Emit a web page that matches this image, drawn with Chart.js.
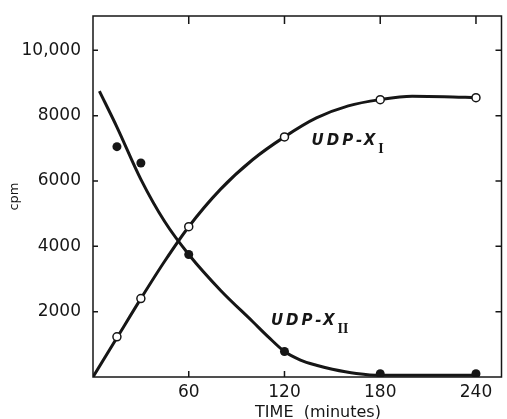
<!DOCTYPE html>
<html>
<head>
<meta charset="utf-8">
<script src="https://cdn.jsdelivr.net/npm/chart.js@4.4.1/dist/chart.umd.min.js"></script>
<style>
  body { margin: 0; background: #fff; }
  #wrap { width: 507px; height: 419px; }
</style>
</head>
<body>
<div id="wrap"><canvas id="chart" width="507" height="419"></canvas></div>
<script>
// tick labels
const timeTicks = [60, 120, 180, 240];
const cpmTicks = [2000, 4000, 6000, 8000, 10000];

// measured points (minutes, cpm)
const sampleTimes = [15, 30, 60, 120, 180, 240];
const udpX1 = [1230, 2400, 4600, 7350, 8490, 8550];   // open circles
const udpX2 = [7050, 6550, 3750, 780, 100, 100];      // filled circles

// hand drawn curves
const curveX1Times = [0, 15, 30, 45, 60, 80, 100, 120, 140, 160, 180, 200, 220, 240];
const curveX1Cpm = [0, 1200, 2400, 3550, 4600, 5750, 6650, 7350, 7930, 8300, 8490, 8590, 8580, 8550];
const curveX2Times = [4, 15, 30, 45, 60, 80, 100, 110, 120, 130, 140, 150, 165, 180, 210, 240];
const curveX2Cpm = [8750, 7650, 6050, 4750, 3750, 2650, 1700, 1220, 780, 520, 360, 240, 110, 50, 50, 50];

const ink = '#161616';

function pts(xs, ys) {
    return xs.map((t, i) => ({ x: t, y: ys[i] }));
}

// frame, inward ticks, curve labels, x title
const decor = {
    id: 'decor',
    afterDraw(chart) {
        const { ctx, chartArea: a, scales: { x, y } } = chart;
        ctx.save();
        ctx.strokeStyle = ink;
        ctx.lineWidth = 1.5;
        ctx.strokeRect(a.left, a.top, a.right - a.left, a.bottom - a.top);
        ctx.beginPath();
        timeTicks.forEach(t => {
            const px = x.getPixelForValue(t);
            ctx.moveTo(px, a.bottom); ctx.lineTo(px, a.bottom - 6);
            ctx.moveTo(px, a.top); ctx.lineTo(px, a.top + 8);
        });
        cpmTicks.forEach(v => {
            const py = y.getPixelForValue(v);
            ctx.moveTo(a.left, py); ctx.lineTo(a.left + 5, py);
            ctx.moveTo(a.right, py); ctx.lineTo(a.right - 6, py);
        });
        ctx.stroke();

        ctx.fillStyle = ink;
        ctx.textBaseline = 'alphabetic';
        ctx.textAlign = 'left';
        // curve labels
        drawLabel(ctx, x.getPixelForValue(137), y.getPixelForValue(7100), 'I');
        drawLabel(ctx, x.getPixelForValue(111.5), y.getPixelForValue(1600), 'II');

        // x axis title
        ctx.letterSpacing = '0px';
        ctx.font = '16px "DejaVu Sans"';
        ctx.textAlign = 'center';
        ctx.fillText('TIME  (minutes)', 318, 417);
        ctx.restore();
    }
};

function drawLabel(ctx, px, py, sub) {
    ctx.font = 'italic bold 15px "DejaVu Sans"';
    ctx.letterSpacing = '3px';
    ctx.fillText('UDP-X', px, py);
    const w = ctx.measureText('UDP-X').width;
    ctx.letterSpacing = '0px';
    ctx.font = 'bold 14px "Liberation Serif"';
    ctx.fillText(sub, px + w, py + 8);
}

new Chart(document.getElementById('chart'), {
    type: 'scatter',
    data: {
        datasets: [
            {
                label: 'UDP-X I',
                data: pts(sampleTimes, udpX1),
                pointRadius: 4,
                pointBackgroundColor: '#fff',
                pointBorderColor: ink,
                pointBorderWidth: 1.5,
                showLine: false
            },
            {
                label: 'UDP-X II',
                data: pts(sampleTimes, udpX2),
                pointRadius: 4.5,
                pointBackgroundColor: ink,
                pointBorderColor: ink,
                pointBorderWidth: 0,
                showLine: false
            },
            {
                label: 'curve I',
                data: pts(curveX1Times, curveX1Cpm),
                showLine: true,
                borderColor: ink,
                borderWidth: 3,
                pointRadius: 0,
                cubicInterpolationMode: 'monotone'
            },
            {
                label: 'curve II',
                data: pts(curveX2Times, curveX2Cpm),
                showLine: true,
                borderColor: ink,
                borderWidth: 3,
                pointRadius: 0,
                cubicInterpolationMode: 'monotone'
            }
        ]
    },
    options: {
        responsive: false,
        animation: false,
        layout: { padding: { top: 16, right: 0, left: 0, bottom: 0 } },
        plugins: {
            legend: { display: false },
            tooltip: { enabled: false }
        },
        scales: {
            x: {
                type: 'linear',
                min: 0,
                max: 256,
                afterBuildTicks: s => { s.ticks = timeTicks.map(v => ({ value: v })); },
                afterFit: s => {
                    s.height = 42;
                    s.paddingLeft = 0;
                    s.paddingRight = 0;
                },
                grid: { display: false, drawTicks: false },
                border: { display: false },
                ticks: {
                    padding: 5,
                    color: ink,
                    font: { family: 'DejaVu Sans', size: 17 }
                }
            },
            y: {
                type: 'linear',
                min: 0,
                max: 11050,
                afterBuildTicks: s => { s.ticks = cpmTicks.map(v => ({ value: v })); },
                afterFit: s => {
                    s.width = 93;
                    s.paddingTop = 0;
                    s.paddingBottom = 0;
                },
                grid: { display: false, drawTicks: false },
                border: { display: false },
                title: {
                    display: true,
                    text: 'cpm',
                    color: ink,
                    padding: { top: 7, bottom: 0 },
                    font: { family: 'DejaVu Sans', size: 13 }
                },
                ticks: {
                    padding: 12,
                    color: ink,
                    font: { family: 'DejaVu Sans', size: 17 },
                    callback: v => v === 10000 ? '10,000' : String(v)
                }
            }
        }
    },
    plugins: [decor]
});
</script>
</body>
</html>
